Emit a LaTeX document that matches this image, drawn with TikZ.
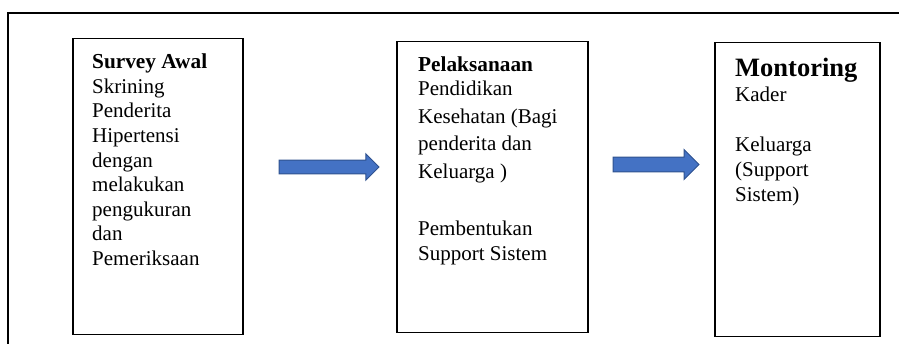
\documentclass[tikz,border=0pt]{standalone}
\usepackage{fontspec}
\setmainfont{Liberation Serif}
\usetikzlibrary{shapes.arrows}
\definecolor{arrowfill}{HTML}{4472C4}
\definecolor{arrowedge}{HTML}{2F528F}
\tikzset{
    stage/.style={draw, line width=1.5pt, anchor=north west, inner sep=0pt},
    txt/.style={anchor=base west, inner sep=0pt, align=left,
        font=\fontsize{21}{24.6}\selectfont},
    head/.style={txt, font=\fontsize{21.3}{25}\selectfont\bfseries},
    blockarrow/.style={single arrow, fill=arrowfill, draw=arrowedge,
        line width=1pt, single arrow tip angle=90, anchor=tail,
        inner xsep=0pt, minimum width=0pt, outer sep=0pt}
}
\begin{document}
\begin{tikzpicture}[x=1pt,y=-1pt]
  \useasboundingbox (0,0) rectangle (899,344);
  \clip (0,0) rectangle (899,344);
  % Draw frame
  \draw[line width=1.3pt] (8,360) -- (8,13) -- (910,13);
  % Draw boxes
  \node[stage, minimum width=170pt, minimum height=296pt] (survey) at (72,38) {};
  \node[stage, minimum width=191pt, minimum height=291pt] (pelaksanaan) at (396,41) {};
  \node[stage, minimum width=165pt, minimum height=294pt] (montoring) at (714,42) {};
  % Draw arrows
  \node[blockarrow, minimum height=100pt, inner ysep=6.3pt,
        single arrow head extend=6.4pt] (arr1) at (279,167) {};
  \node[blockarrow, minimum height=86pt, inner ysep=6.8pt,
        single arrow head extend=7.7pt] (arr2) at (613,164.5) {};
  % Survey text (multi-line nodes sit on their last baseline)
  \node[head] (surveyhead) at (92,68.3) {Survey Awal};
  \node[txt] (surveytext) at (92,265.5)
        {Skrining\\Penderita\\Hipertensi\\dengan\\melakukan\\pengukuran\\dan\\Pemeriksaan};
  % Pelaksanaan text
  \node[head] (pelakhead) at (418,71.7) {Pelaksanaan};
  \node[txt, font=\fontsize{21}{27.5}\selectfont] (pelaktext) at (418,178.5)
        {Pendidikan\\Kesehatan (Bagi\\penderita dan\\Keluarga )};
  \node[txt, font=\fontsize{21}{25}\selectfont] (pelaksupport) at (418,261)
        {Pembentukan\\Support Sistem};
  % Montoring text
  \node[head, font=\fontsize{26.5}{30}\selectfont\bfseries] (monhead) at (735,76.7) {Montoring};
  \node[txt] (kader) at (735,101.7) {Kader};
  \node[txt, font=\fontsize{21}{25}\selectfont] (keluarga) at (735,201.7)
        {Keluarga\\(Support\\Sistem)};
\end{tikzpicture}
\end{document}
